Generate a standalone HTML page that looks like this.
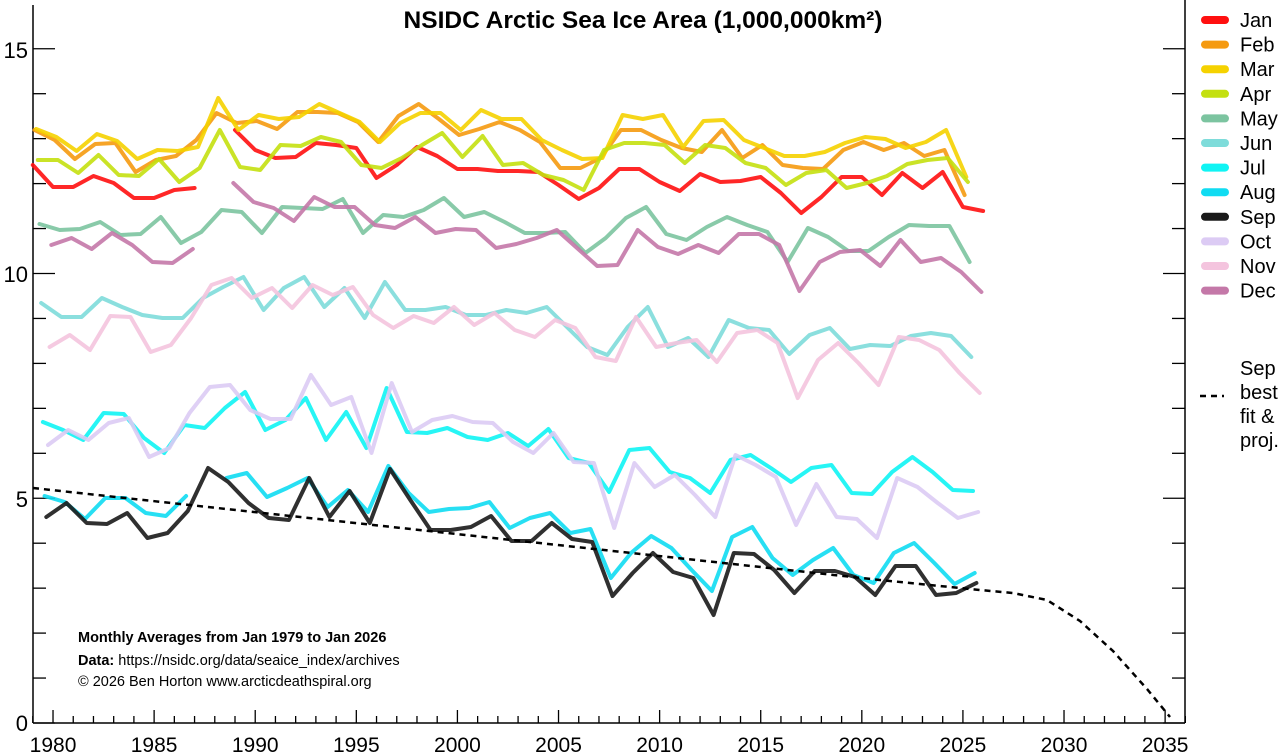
<!DOCTYPE html>
<html><head><meta charset="utf-8"><style>
html,body{margin:0;padding:0;background:#fff;}
svg{display:block;font-family:"Liberation Sans",Arial,sans-serif;}
</style></head><body>
<svg id="s" width="1285" height="755" viewBox="0 0 1285 755" xmlns="http://www.w3.org/2000/svg">
<text x="643" y="28" text-anchor="middle" font-size="24.5" font-weight="bold" fill="#000">NSIDC Arctic Sea Ice Area (1,000,000km²)</text>
<g id="axes" stroke="#000" stroke-width="1.5" fill="none">
<line x1="33" y1="5" x2="33" y2="723"/>
<line x1="1185" y1="0" x2="1185" y2="723"/>
<line x1="33" y1="723" x2="1185" y2="723"/>
</g>
<g id="ticks" stroke="#000" stroke-width="1.3"></g>
<g font-size="22" fill="#000" text-anchor="end">
<text x="28" y="58">15</text><text x="28" y="282">10</text><text x="28" y="507">5</text><text x="28" y="731">0</text>
</g>
<g id="xl" font-size="21" fill="#000" text-anchor="middle"></g>
<g id="series" fill="none" stroke-width="4" stroke-linejoin="round" stroke-linecap="round"></g>
<polyline points="33,488 880,580 980,590 1013,593 1047,600 1080,621 1113,651 1147,689 1170,717" fill="none" stroke="#000" stroke-width="2.5" stroke-dasharray="6,5"/>
<g font-size="14.5" fill="#000">
<text x="78" y="642" font-weight="bold">Monthly Averages from Jan 1979 to Jan 2026</text>
<text x="78" y="665"><tspan font-weight="bold">Data:</tspan>  https://nsidc.org/data/seaice_index/archives</text>
<text x="78" y="686">© 2026 Ben Horton www.arcticdeathspiral.org</text>
</g>
<g id="legend" font-size="20" fill="#000"></g>
<g font-size="20" fill="#000">
<text x="1240" y="375">Sep</text><text x="1240" y="399">best</text><text x="1240" y="423">fit &amp;</text><text x="1240" y="447">proj.</text>
<line x1="1200" y1="396" x2="1224" y2="396" stroke="#000" stroke-width="2.5" stroke-dasharray="6,5"/>
</g>
</svg>
<script>
var NS="http://www.w3.org/2000/svg";
function el(t,a,p,txt){var e=document.createElementNS(NS,t);for(var k in a)e.setAttribute(k,a[k]);if(txt)e.textContent=txt;p.appendChild(e);return e;}
var tk=document.getElementById('ticks');
for(var v=0;v<=15;v++){var y=723-v*44.95;var L=(v%5==0)?22:13;
 el('line',{x1:33,y1:y,x2:33+L,y2:y},tk);el('line',{x1:1185,y1:y,x2:1185-L,y2:y},tk);}
var xl=document.getElementById('xl');
for(var yr=1979;yr<=2036;yr++){var x=32.8+(yr-1979)*20.22;var M=(yr%5==0);
 el('line',{x1:x,y1:723,x2:x,y2:723-(M?13:7)},tk);
 if(M)el('text',{x:x,y:752},xl,String(yr));}
var N=null;
var S=[
["#ff1010",0,[165,187,187,176,183,198,198,190,188,N,130,150,158,157,143,145,148,178,165,147,156,169,169,171,171,172,185,199,188,169,169,182,191,174,182,181,177,193,213,197,177,177,195,173,188,172,207,211]],
["#f59a10",1.7,[130,140,159,144,143,172,160,156,140,113,123,121,129,112,112,113,122,142,116,104,119,135,129,122,130,142,168,168,158,130,130,140,148,152,130,158,145,165,168,169,150,142,150,143,156,150,195]],
["#f5d200",3.4,[129,137,151,134,141,159,150,151,147,98,130,115,119,117,104,113,122,142,123,113,113,130,110,119,119,140,150,159,158,115,119,115,147,121,120,140,148,156,156,152,143,137,139,148,142,130,177]],
["#c4e010",5,[160,160,173,155,175,176,159,182,168,130,167,170,145,146,137,142,165,168,158,145,133,157,136,165,163,175,180,190,150,143,143,145,163,145,148,163,168,185,173,170,188,183,176,164,160,158,182]],
["#7cc4a0",6.7,[224,230,229,222,235,234,217,243,232,210,212,233,207,208,209,199,233,215,217,210,198,217,212,222,233,233,232,253,238,218,207,234,240,227,217,225,232,262,228,237,251,251,237,225,226,226,262]],
["#7edcda",8.4,[303,317,317,298,307,315,318,318,298,287,277,310,288,277,307,288,318,282,310,310,307,315,315,310,313,307,327,347,355,327,307,347,338,357,320,328,330,354,335,328,349,345,346,336,333,336,357]],
["#10f4f4",10.1,[422,430,440,413,414,438,453,425,428,408,392,430,420,398,440,412,448,388,432,433,428,437,440,433,446,429,458,463,492,450,448,472,478,493,460,455,468,482,468,465,493,494,472,457,472,490,491]],
["#10dcf2",11.8,[496,502,519,498,498,513,516,496,N,478,473,497,488,478,507,490,512,466,493,512,509,508,502,528,518,513,533,529,578,553,536,548,570,591,537,527,558,575,560,548,575,583,553,543,563,584,573]],
["#1a1a1a",13.5,[517,503,523,524,513,538,533,511,468,482,503,518,520,478,517,491,523,469,500,530,530,527,516,541,541,523,539,542,596,573,553,572,578,615,553,554,570,593,571,571,577,595,566,566,595,593,583]],
["#dccbf4",15.2,[445,430,440,423,418,457,448,413,387,385,410,419,419,375,405,397,453,383,432,420,416,422,423,442,453,433,462,463,528,463,487,475,495,517,455,465,477,525,484,517,519,538,478,487,503,518,512]],
["#f4c4de",16.8,[347,335,350,316,317,352,345,318,285,278,298,288,308,285,295,287,315,328,316,323,307,325,313,330,337,320,328,357,361,317,347,343,340,362,333,330,343,398,360,343,363,385,337,340,350,373,393]],
["#c478a8",18.5,[245,238,249,233,245,262,263,249,N,183,202,208,221,197,207,207,225,228,217,233,229,230,248,244,238,230,248,266,265,230,247,254,245,253,234,234,245,291,262,252,250,266,240,262,258,272,292]]
];
var sg=document.getElementById('series');
S.forEach(function(s){var pts=[];function flush(){if(pts.length>1)el('polyline',{points:pts.join(' '),stroke:s[0],'stroke-opacity':0.9},sg);pts=[];}
 s[2].forEach(function(y,i){if(y===null){flush();return;}var x=32.8+i*20.22+s[1];pts.push(x.toFixed(1)+','+y);});flush();});
var lg=document.getElementById('legend');
var names=["Jan","Feb","Mar","Apr","May","Jun","Jul","Aug","Sep","Oct","Nov","Dec"];
names.forEach(function(n,i){var y=20+i*24.6;
 el('line',{x1:1205,y1:y,x2:1225,y2:y,stroke:S[i][0],'stroke-width':8,'stroke-linecap':'round'},lg);
 el('text',{x:1240,y:y+7},lg,n);});
</script>
</body></html>
